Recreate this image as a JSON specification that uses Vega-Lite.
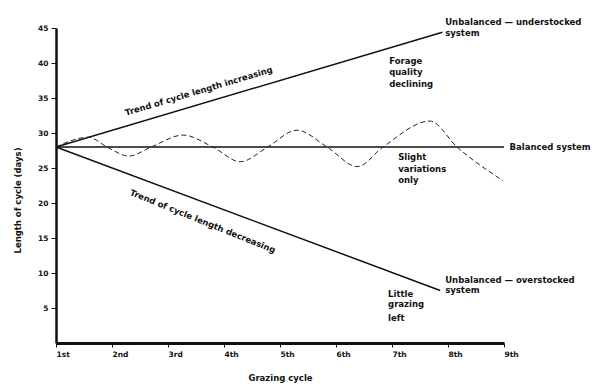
{
  "$schema": "https://vega.github.io/schema/vega-lite/v6.json",
  "width": 448,
  "height": 315,
  "autosize": {"type": "none"},
  "padding": {"left": 56, "top": 28, "right": 96, "bottom": 46},
  "background": "white",
  "config": {
    "view": {"stroke": null},
    "font": "DejaVu Sans",
    "text": {"font": "DejaVu Sans", "fontWeight": "bold", "fontSize": 8.5, "color": "#111"}
  },
  "datasets": {
    "lines": [
      {"series": "up", "cycle": 1, "days": 28},
      {"series": "up", "cycle": 7.9, "days": 44.4},
      {"series": "bal", "cycle": 1, "days": 28},
      {"series": "bal", "cycle": 9, "days": 28},
      {"series": "down", "cycle": 1, "days": 28},
      {"series": "down", "cycle": 7.86, "days": 7.5}
    ],
    "wave": [
      {"cycle": 1.0, "days": 28},
      {"cycle": 1.58, "days": 29.4},
      {"cycle": 1.91, "days": 28},
      {"cycle": 2.3, "days": 26.7},
      {"cycle": 2.7, "days": 28},
      {"cycle": 3.27, "days": 29.7},
      {"cycle": 3.8, "days": 28},
      {"cycle": 4.29, "days": 25.9},
      {"cycle": 4.78, "days": 28},
      {"cycle": 5.3, "days": 30.4},
      {"cycle": 5.84, "days": 28},
      {"cycle": 6.38, "days": 25.2},
      {"cycle": 6.84, "days": 28},
      {"cycle": 7.68, "days": 31.7},
      {"cycle": 8.16, "days": 28},
      {"cycle": 8.98, "days": 23.2}
    ],
    "notes": [
      {"txt": "Unbalanced — understocked", "cycle": 7.95, "days": 45.9},
      {"txt": "system", "cycle": 7.95, "days": 44.3},
      {"txt": "Forage", "cycle": 6.95, "days": 40.3},
      {"txt": "quality", "cycle": 6.95, "days": 38.7},
      {"txt": "declining", "cycle": 6.95, "days": 37.0},
      {"txt": "Balanced system", "cycle": 9.1, "days": 28},
      {"txt": "Slight", "cycle": 7.11, "days": 26.6},
      {"txt": "variations", "cycle": 7.11, "days": 24.9},
      {"txt": "only", "cycle": 7.11, "days": 23.3},
      {"txt": "Unbalanced — overstocked", "cycle": 7.95, "days": 9.0},
      {"txt": "system", "cycle": 7.95, "days": 7.6},
      {"txt": "Little", "cycle": 6.93, "days": 7.0},
      {"txt": "grazing", "cycle": 6.93, "days": 5.6},
      {"txt": "left", "cycle": 6.93, "days": 3.6}
    ],
    "trendUp": [{"txt": "Trend of cycle length increasing", "cycle": 3.55, "days": 36.0}],
    "trendDown": [{"txt": "Trend of cycle length decreasing", "cycle": 3.62, "days": 17.4}]
  },
  "layer": [
    {
      "data": {"name": "lines"},
      "mark": {"type": "line", "color": "#111", "strokeWidth": 1.5, "clip": false},
      "encoding": {
        "x": {
          "field": "cycle", "type": "quantitative",
          "scale": {"domain": [1, 9], "nice": false, "zero": false},
          "axis": {
            "values": [1, 2, 3, 4, 5, 6, 7, 8, 9], "tickCount": 12,
            "labelExpr": "datum.value == 1 ? '1st' : datum.value == 2 ? '2nd' : datum.value == 3 ? '3rd' : datum.value + 'th'",
            "grid": false, "labelOverlap": false,
            "domainColor": "#111", "domainWidth": 3,
            "tickColor": "#111", "tickSize": 4, "tickWidth": 1,
            "labelAlign": "left", "labelPadding": 3, "labelFont": "DejaVu Sans", "labelFontWeight": "bold", "labelFontSize": 7.5, "labelColor": "#111",
            "title": "Grazing cycle",
            "titleFont": "DejaVu Sans", "titleFontWeight": "bold", "titleFontSize": 8.5, "titleColor": "#111",
            "titleX": 224, "titleY": 34, "titleBaseline": "middle"
          }
        },
        "y": {
          "field": "days", "type": "quantitative",
          "scale": {"domain": [0, 45], "nice": false},
          "axis": {
            "values": [5, 10, 15, 20, 25, 30, 35, 40, 45], "tickCount": 12,
            "grid": false, "labelOverlap": false,
            "domainColor": "#111", "domainWidth": 2.5,
            "tickColor": "#111", "tickSize": 5, "tickWidth": 1,
            "labelPadding": 3, "labelFont": "DejaVu Sans", "labelFontWeight": "bold", "labelFontSize": 7.5, "labelColor": "#111",
            "title": "Length of cycle (days)",
            "titleFont": "DejaVu Sans", "titleFontWeight": "bold", "titleFontSize": 8.5, "titleColor": "#111",
            "titleX": -39, "titleY": 172, "titleAngle": -90, "titleAlign": "center", "titleBaseline": "middle"
          }
        },
        "detail": {"field": "series"}
      }
    },
    {
      "data": {"name": "wave"},
      "mark": {"type": "line", "color": "#222", "strokeWidth": 1, "strokeDash": [5, 3], "interpolate": "monotone"},
      "encoding": {
        "x": {"field": "cycle", "type": "quantitative"},
        "y": {"field": "days", "type": "quantitative"}
      }
    },
    {
      "data": {"name": "notes"},
      "mark": {"type": "text", "align": "left", "baseline": "middle"},
      "encoding": {
        "x": {"field": "cycle", "type": "quantitative"},
        "y": {"field": "days", "type": "quantitative"},
        "text": {"field": "txt"}
      }
    },
    {
      "data": {"name": "trendUp"},
      "mark": {"type": "text", "align": "center", "baseline": "middle", "angle": 343.5},
      "encoding": {
        "x": {"field": "cycle", "type": "quantitative"},
        "y": {"field": "days", "type": "quantitative"},
        "text": {"field": "txt"}
      }
    },
    {
      "data": {"name": "trendDown"},
      "mark": {"type": "text", "align": "center", "baseline": "middle", "angle": 22},
      "encoding": {
        "x": {"field": "cycle", "type": "quantitative"},
        "y": {"field": "days", "type": "quantitative"},
        "text": {"field": "txt"}
      }
    }
  ]
}
